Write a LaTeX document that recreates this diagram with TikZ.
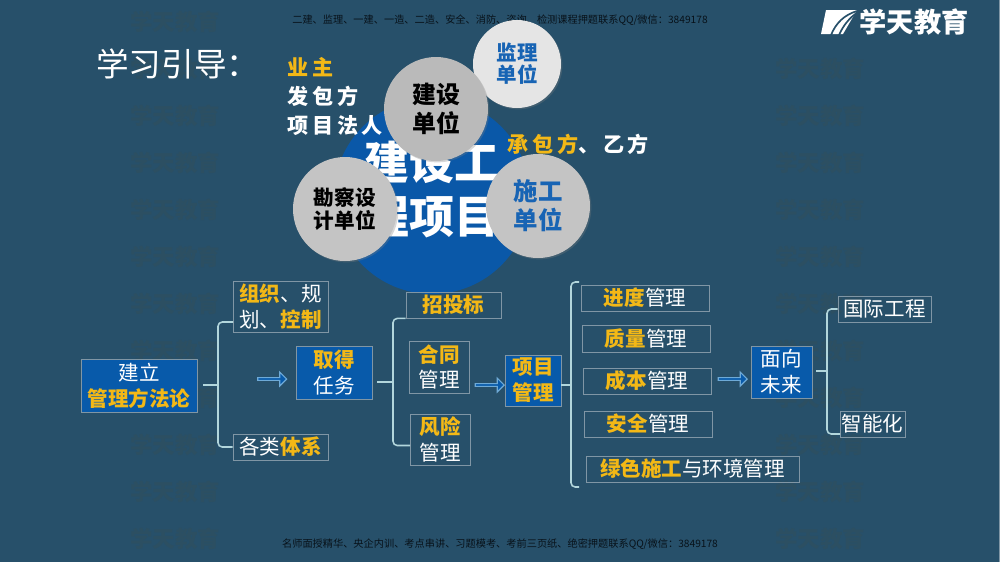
\documentclass[tikz,border=0pt]{standalone}
\usepackage{fontspec}
\setmainfont{Noto Sans CJK SC}
\newfontfamily\widecjk[LetterSpace=18]{Noto Sans CJK SC}
\usepackage{tikz}
\usetikzlibrary{shapes, shapes.arrows, shadows, calc}
\definecolor{slatebg}{RGB}{39, 80, 106}
\definecolor{markgray}{RGB}{44, 79, 98}
\definecolor{boxblue}{RGB}{8, 90, 170}
\definecolor{discblue}{RGB}{10, 88, 168}
\definecolor{amber1}{RGB}{243, 184, 22}
\definecolor{edgegray}{RGB}{128, 150, 165}
\definecolor{branchblue}{RGB}{178, 214, 220}
\definecolor{arrowedge}{RGB}{110, 170, 215}
\definecolor{unitblue}{RGB}{24, 100, 180}
\definecolor{inkdark}{RGB}{8, 18, 26}
\newcommand{\hl}[1]{\textbf{\textcolor{amber1}{#1}}}
\newcommand{\pxlen}{0.025cm}
\tikzset{
  boxtext/.style={font=\fontsize{14.6}{18.4}\selectfont, align=center, inner sep=0pt, text=white},
  bluebox/.style 2 args={boxtext, draw=edgegray, fill=boxblue, line width=0.6pt, minimum width=#1*\pxlen, minimum height=#2*\pxlen},
  linebox/.style 2 args={boxtext, draw=edgegray, line width=0.6pt, minimum width=#1*\pxlen, minimum height=#2*\pxlen},
  branch/.style={draw=branchblue, line width=1.1pt, rounded corners=3pt},
  stem/.style={draw=branchblue, line width=1.1pt},
  hollowarrow/.style={single arrow, draw=arrowedge, fill=boxblue, line width=0.8pt, inner sep=0pt, minimum width=14*\pxlen, minimum height=29*\pxlen, single arrow head extend=1.6pt, single arrow tip angle=90},
  unitdisc/.style={circle, inner sep=0pt, minimum size=#1*\pxlen, align=center, drop shadow={opacity=0.3, shadow xshift=1pt, shadow yshift=-1pt}},
  watermark/.style={font=\bfseries\fontsize{16}{16}\selectfont, text=markgray, inner sep=0pt},
  sidetext/.style={font=\widecjk\bfseries\fontsize{15}{15}\selectfont, inner sep=0pt, text=white, anchor=west},
}
\begin{document}
\begin{tikzpicture}[x=0.025cm, y=-0.025cm]
  % Background
  \fill[slatebg] (0,0) rectangle (1000,562);
  \useasboundingbox (0,0) rectangle (1000,562);
  \fill[edgegray] (998.5,0) rectangle (1000,562);

  % Faint brand marks
  \foreach \row in {22,69,...,540} {
    \node[watermark] (markleft\row) at (175,\row) {学天教育};
  }
  \foreach \row in {69,116,...,540} {
    \node[watermark] (markright\row) at (820,\row) {学天教育};
  }

  % Header and footer
  \node[font=\fontsize{7.25}{8}\selectfont, text=inkdark, inner sep=0pt] (headline) at (500,20) {二建、监理、一建、一造、二造、安全、消防、咨询、检测课程押题联系QQ/微信：3849178};
  \node[font=\fontsize{7.25}{8}\selectfont, text=inkdark, inner sep=0pt] (footline) at (500,544) {名师面授精华、央企内训、考点串讲、习题模考、考前三页纸、绝密押题联系QQ/微信：3849178};

  % Logo
  \fill[white] (826,10) -- (857,10) -- (843,34) -- (821,34) -- cycle;
  \draw[slatebg, line width=1.2pt] (857,11) .. controls (844,15) and (836,23) .. (831,35);
  \draw[slatebg, line width=1.2pt] (858,12) .. controls (849,18) and (843,26) .. (839,35);
  \node[font=\bfseries\fontsize{19.4}{20}\selectfont, text=white, inner sep=0pt] (logotext) at (914,22) {学天教育};

  % Project disc
  \node[circle, fill=discblue, minimum size=196*\pxlen, inner sep=0pt] (projectdisc) at (432,196) {};
  \node[font=\bfseries\fontsize{32}{38.4}\selectfont, text=white, align=center, inner sep=0pt] (projecttext) at (432,190) {建设工\\程项目};

  % Unit discs
  \node[unitdisc=88, fill=black!10, text=unitblue, font=\bfseries\fontsize{14.6}{15.8}\selectfont] (supervisor) at (517,64) {监理\\单位};
  \node[unitdisc=104, fill=black!27, text=black, font=\bfseries\fontsize{17}{20.2}\selectfont] (builder) at (436,109) {建设\\单位};
  \node[unitdisc=104, fill=black!23, text=black, font=\bfseries\fontsize{14.7}{16.6}\selectfont] (surveyor) at (345,209) {勘察设\\计单位};
  \node[unitdisc=104, fill=black!23, text=unitblue, font=\bfseries\fontsize{17.4}{20.6}\selectfont] (constructor) at (538,206) {施工\\单位};

  % Title and side labels
  \node[font=\fontsize{23.2}{24}\selectfont, text=white, inner sep=0pt, anchor=west] (guide) at (96,64) {学习引导：};
  \node[sidetext] (owner) at (287,67) {\textcolor{amber1}{业主}};
  \node[sidetext] (issuer) at (287,96) {发包方};
  \node[sidetext] (legal) at (287,126) {项目法人};
  \node[sidetext] (contractor) at (507,144) {\textcolor{amber1}{承包方}、乙方};

  % Left branch
  \node[bluebox={116}{53}] (method) at (139,385.5) {建立\\\hl{管理方法论}};
  \node[linebox={95}{51}] (organize) at (280.5,306.5) {\hl{组织}、规\\划、\hl{控制}};
  \node[linebox={95}{26}] (systems) at (280.5,447) {各类\hl{体系}};
  \coordinate (methodstem) at (203,385);
  \coordinate (methodjoin) at (218,385);
  \coordinate (organizefoot) at (233,322);
  \draw[stem] (methodstem) -- (methodjoin);
  \draw[branch] (organizefoot) -| (methodjoin) |- (systems.west);

  % Task branch
  \node[hollowarrow] (arrowtask) at (271.5,379) {};
  \node[bluebox={76}{53}] (task) at (334,372.5) {\hl{取得}\\任务};
  \node[linebox={95}{26}] (bidding) at (453.5,305) {\hl{招投标}};
  \node[linebox={60}{52}] (contract) at (439,367) {\hl{合同}\\管理};
  \node[linebox={60}{51}] (risk) at (440,439.5) {\hl{风险}\\管理};
  \coordinate (taskstem) at (377,382);
  \coordinate (taskjoin) at (393,382);
  \coordinate (riskfoot) at (410,445.5);
  \draw[stem] (taskstem) -- (taskjoin);
  \draw[branch] (bidding.south west) -| (taskjoin) |- (riskfoot);

  % Project branch
  \node[hollowarrow] (arrowproject) at (489,385) {};
  \node[bluebox={56}{51}] (manage) at (533,380.5) {\hl{项目}\\\hl{管理}};
  \node[linebox={128}{26}] (schedule) at (645,298) {\hl{进度}管理};
  \node[linebox={128}{27}] (quality) at (646,338.5) {\hl{质量}管理};
  \node[linebox={128}{26}] (cost) at (647,381) {\hl{成本}管理};
  \node[linebox={128}{26}] (safety) at (648,424) {\hl{安全}管理};
  \node[linebox={213}{26}] (green) at (692.5,469) {\hl{绿色施工}与环境管理};
  \coordinate (managestem) at (561,385);
  \coordinate (managejoin) at (571,385);
  \coordinate (managetop) at (579,282);
  \coordinate (managebottom) at (579,487);
  \draw[stem] (managestem) -- (managejoin);
  \draw[branch] (managetop) -| (managejoin) |- (managebottom);

  % Future branch
  \node[hollowarrow] (arrowfuture) at (732,379) {};
  \node[bluebox={61}{52}] (future) at (781.5,372) {面向\\未来};
  \node[linebox={93}{26}] (global) at (884.5,309) {国际工程};
  \node[linebox={65}{26}] (smart) at (872.5,424) {智能化};
  \coordinate (futurestem) at (816,371);
  \coordinate (futurejoin) at (827,371);
  \coordinate (smartfoot) at (840,434);
  \draw[stem] (futurestem) -- (futurejoin);
  \draw[branch] (global.west) -| (futurejoin) |- (smartfoot);
\end{tikzpicture}
\end{document}
